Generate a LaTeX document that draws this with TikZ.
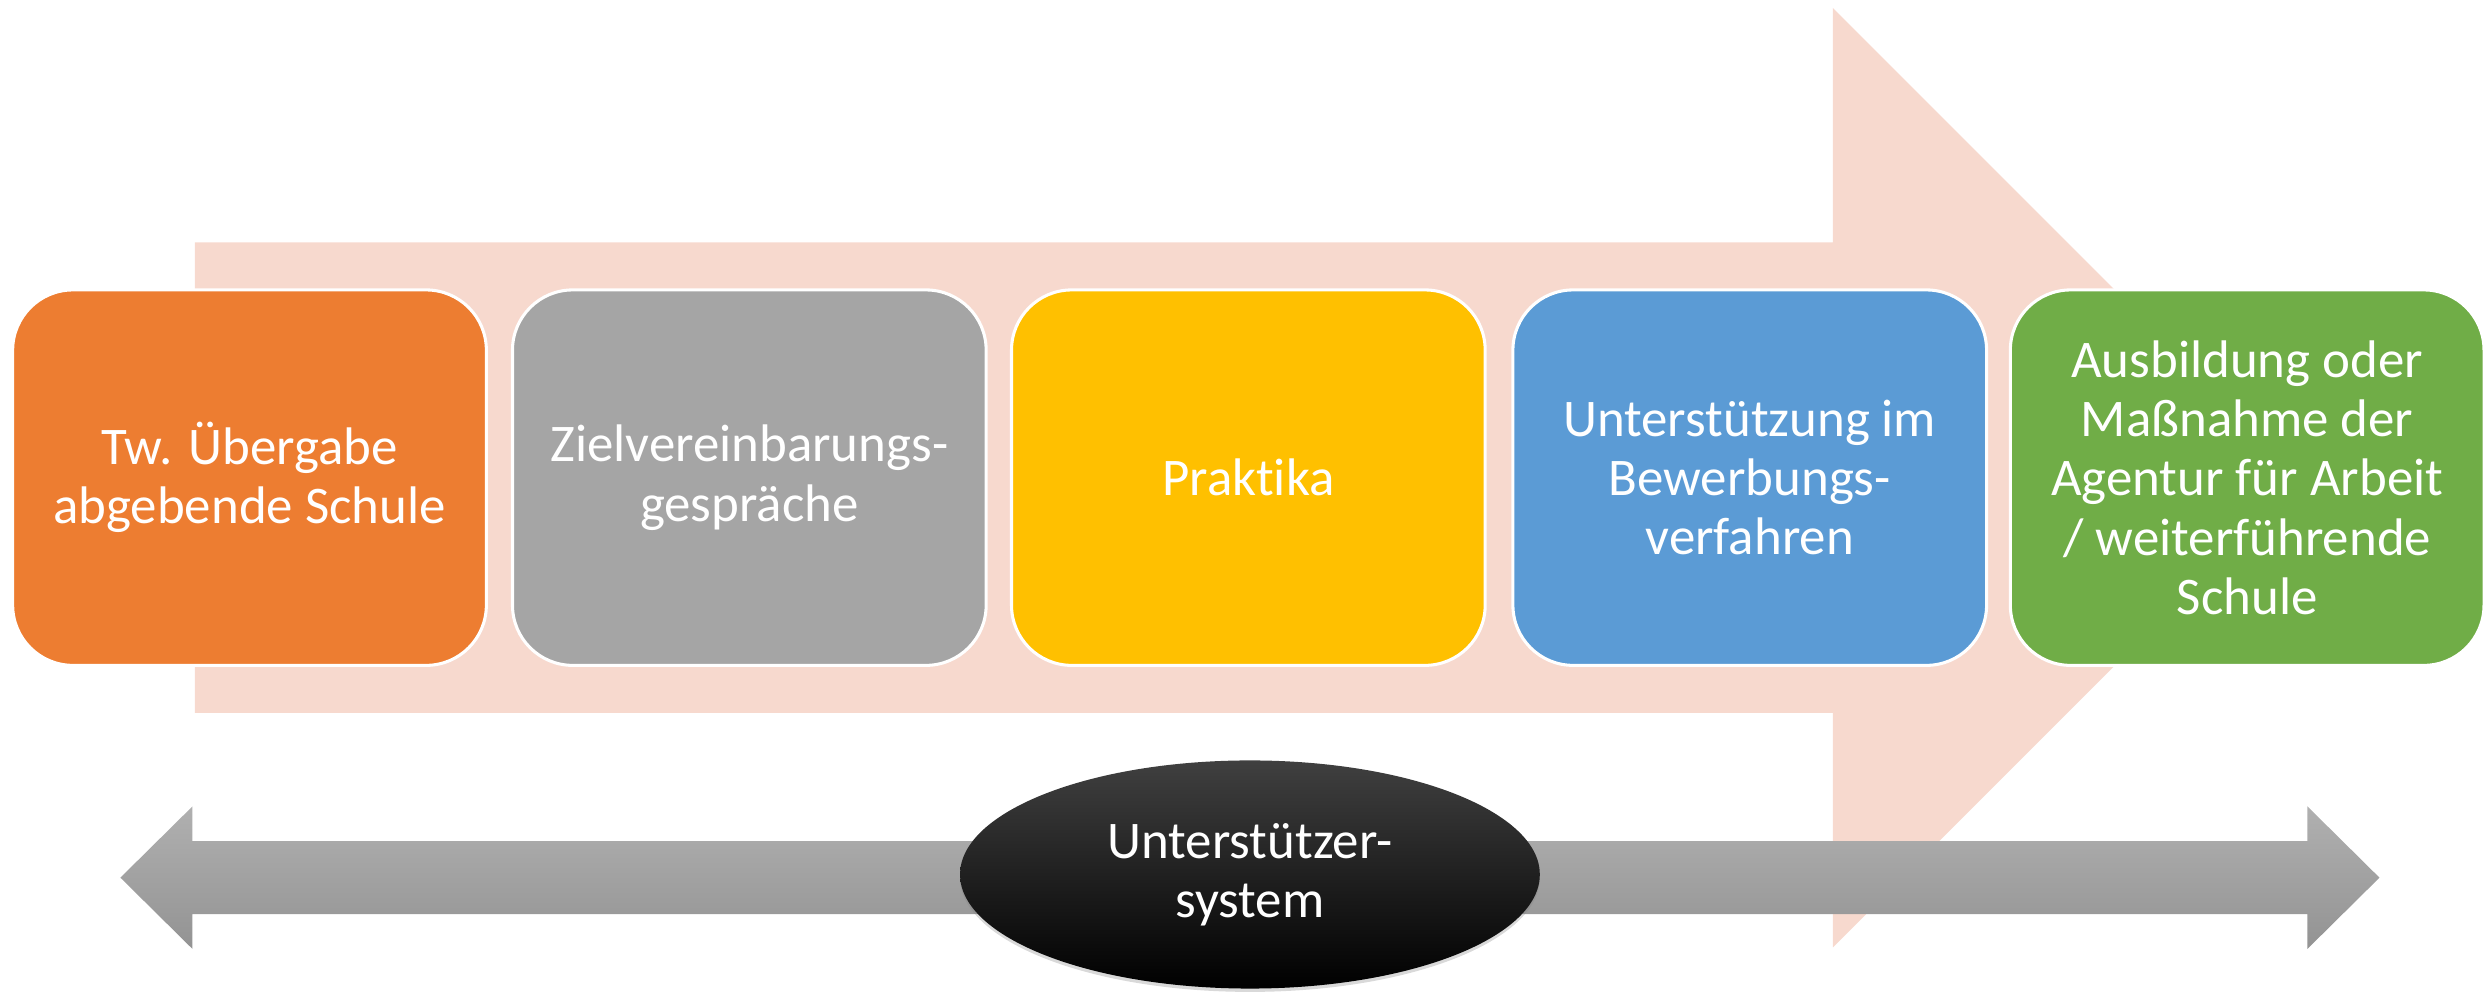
\documentclass[tikz,border=0pt]{standalone}
\usepackage{fontspec}
\setmainfont{Carlito}[Ligatures=NoCommon]
\usetikzlibrary{shapes.geometric,shadows}
\tikzset{
  stage/.style={draw=white, line width=1.1pt, rounded corners=7.6mm, minimum width=59.8mm,
    minimum height=47.4mm, inner sep=0pt, text=white, align=center,
    font=\fontsize{19}{21.3}\selectfont},
}
\begin{document}
\begin{tikzpicture}[x=0.2mm,y=-0.2mm]
  \definecolor{flowcolor}{HTML}{F7D9CE}
  \definecolor{barhigh}{HTML}{B0B0B0}
  \definecolor{barlow}{HTML}{939393}
  \definecolor{stageA}{HTML}{ED7D31}
  \definecolor{stageB}{HTML}{A5A5A5}
  \definecolor{stageC}{HTML}{FFC000}
  \definecolor{stageD}{HTML}{5B9BD5}
  \definecolor{stageE}{HTML}{70AD47}
  \useasboundingbox (0,0) rectangle (1568,628);
  \fill [flowcolor] (123,153) -- (1157,153) -- (1157,5) -- (1453.5,301.5) -- (1157,598) --
   (1157,450) -- (123,450) -- cycle;
  \node [stage, fill=stageA] (uebergabe) at (157.5,301.5) {Tw. Übergabe\\abgebende Schule};
  \node [stage, fill=stageB] (ziel) at (473,301.5) {Zielvereinbarungs-\\gespräche};
  \node [stage, fill=stageC] (praktika) at (788,301.5) {Prakt\kern0pt ika};
  \node [stage, fill=stageD] (bewerbung) at (1104.5,301.5) {Unterstützung im\\Bewerbungs-\\verfahren};
  \node [stage, fill=stageE] (abschluss) at (1418.5,301.5)
   {Ausbildung oder\\Maßnahme der\\Agentur für Arbeit\\/ weiterführende\\Schule};
  \shade [top color=barhigh, bottom color=barlow] (76,554) -- (121.5,509) -- (121.5,531) --
   (1456.5,531) -- (1456.5,509) -- (1502,554) -- (1456.5,599) -- (1456.5,577) -- (121.5,577) --
   (121.5,599) -- cycle;
  \node [ellipse, minimum width=73.2mm, minimum height=28.8mm, inner sep=0pt,
   top color=black!75, middle color=black, bottom color=black,
   drop shadow={shadow xshift=0pt, shadow yshift=-1.2pt, opacity=.3},
   text=white, align=center, font=\fontsize{19}{21.3}\selectfont] (helfer) at (789,552)
   {Unterstützer-\\system};
\end{tikzpicture}
\end{document}
